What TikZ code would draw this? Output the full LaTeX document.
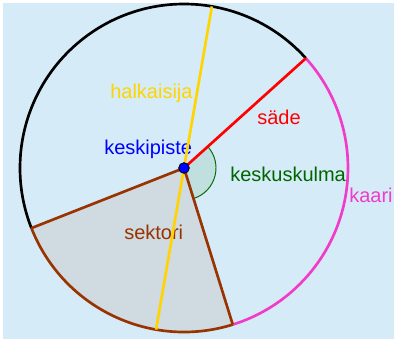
\documentclass[tikz,border=0pt]{standalone}
\usepackage{fontspec}
\setmainfont{Liberation Sans}
\usetikzlibrary{calc}
\definecolor{bgblue}{RGB}{213,236,248}
\definecolor{sectorfill}{RGB}{207,218,225}
\definecolor{anglefill}{RGB}{192,224,224}
\definecolor{sectorbrown}{RGB}{153,51,0}
\definecolor{arcpink}{RGB}{240,60,200}
\definecolor{diamgold}{RGB}{255,212,0}
\definecolor{angleg}{RGB}{0,102,0}

\begin{document}
\begin{tikzpicture}[x=0.75pt,y=0.75pt,
  part/.style={line width=2pt},
  lbl/.style={font=\fontsize{15}{18}\selectfont,inner sep=0pt,anchor=base west},
  centre/.style={circle,draw=black,fill=blue,line width=0.6pt,minimum size=8pt,inner sep=0pt}]
  \useasboundingbox (0,0) rectangle (394,340);
  \fill[bgblue] (3,1) rectangle (394,337);
  % centre and points on the circle
  \coordinate (O) at (184,172);
  \coordinate (R) at ($(O)+(42:164)$);
  \coordinate (D1) at ($(O)+(80.2:164)$);
  \coordinate (D2) at ($(O)+(260.2:164)$);
  \coordinate (S1) at ($(O)+(201.5:164)$);
  \coordinate (S2) at ($(O)+(287.3:164)$);
  % sector and central angle
  \fill[sectorfill] (O) -- (S1) arc[start angle=201.5,end angle=287.3,radius=164] -- cycle;
  \filldraw[fill=anglefill,draw=angleg,line width=0.7pt] (O) -- ($(O)+(-72.7:32)$)
    arc[start angle=-72.7,end angle=42,radius=32] -- cycle;
  % the circle in three arcs
  \draw[part,black] (R) arc[start angle=42,end angle=201.5,radius=164];
  \draw[part,sectorbrown] (S1) arc[start angle=201.5,end angle=287.3,radius=164];
  \draw[part,arcpink] (S2) arc[start angle=-72.7,end angle=42,radius=164];
  % labels
  \node[lbl,text=diamgold] (lhalk) at (110,241) {halkaisija};
  \node[lbl,text=red] (lsade) at (257,215) {säde};
  \node[lbl,text=blue] (lkesk) at (104,185) {keskipiste};
  \node[lbl,text=angleg] (lkulma) at (230,158) {keskuskulma};
  \node[lbl,text=arcpink] (lkaari) at (349,137) {kaari};
  \node[lbl,text=sectorbrown] (lsekt) at (124,100) {sektori};
  % segments
  \draw[part,diamgold] (D2) -- (D1);
  \draw[part,sectorbrown] (S1) -- (O) -- (S2);
  \draw[part,red] (O) -- (R);
  \node[centre] (dot) at (O) {};
\end{tikzpicture}
\end{document}
